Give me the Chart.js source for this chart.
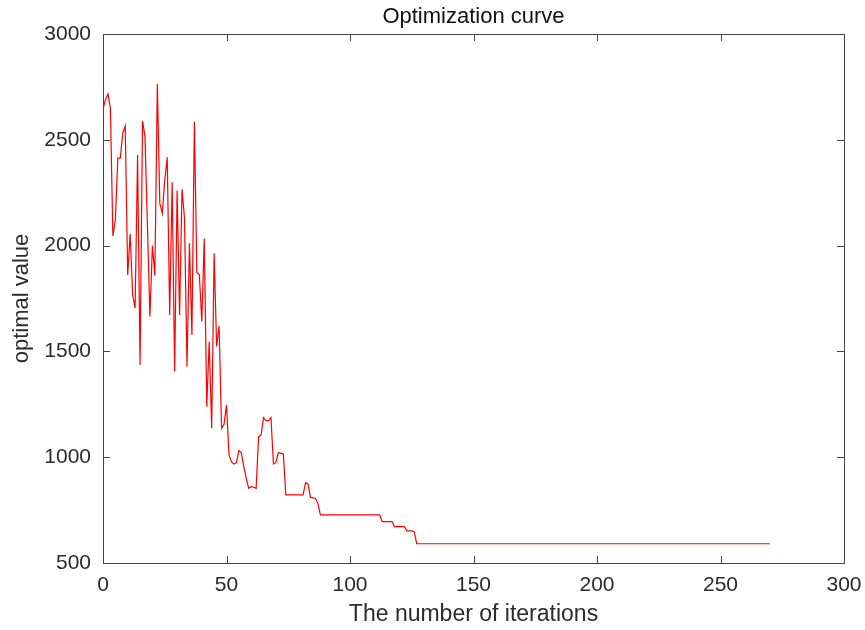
<!DOCTYPE html>
<html>
<head>
<meta charset="utf-8">
<script src="https://cdn.jsdelivr.net/npm/chart.js@4.4.1/dist/chart.umd.min.js"></script>
<style>
  body { margin: 0; background: #fff; }
  canvas { display: block; }
</style>
</head>
<body>
<canvas id="curve" width="865" height="630"></canvas>
<script>
// optimal value at each iteration (iteration = index)
const optimalValues = [
    2644, 2690, 2717, 2649, 2046, 2121, 2413, 2413, 2531, 2565,
    1861, 2055, 1767, 1704, 2428, 1436, 2589, 2515, 2090, 1665,
    2000, 1858, 2764, 2200, 2153, 2310, 2417, 1672, 2299, 1405,
    2260, 1672, 2266, 2129, 1428, 2011, 1578, 2586, 1873, 1863,
    1641, 2033, 1239, 1546, 1137, 1964, 1523, 1620, 1137, 1155,
    1247, 1011, 979, 968, 974, 1031, 1022, 955, 900, 853,
    861, 858, 853, 1097, 1105, 1187, 1173, 1173, 1187, 968,
    974, 1022, 1018, 1015, 822, 822, 822, 822, 822, 822,
    822, 822, 880, 874, 811, 808, 806, 782, 727, 727,
    727, 727, 727, 727, 727, 727, 727, 727, 727, 727,
    727, 727, 727, 727, 727, 727, 727, 727, 727, 727,
    727, 727, 727, 696, 696, 696, 696, 696, 672, 672,
    672, 672, 672, 652, 652, 652, 648, 591, 591, 591,
    591, 591, 591, 591, 591, 591, 591, 591, 591, 591,
    591, 591, 591, 591, 591, 591, 591, 591, 591, 591,
    591, 591, 591, 591, 591, 591, 591, 591, 591, 591,
    591, 591, 591, 591, 591, 591, 591, 591, 591, 591,
    591, 591, 591, 591, 591, 591, 591, 591, 591, 591,
    591, 591, 591, 591, 591, 591, 591, 591, 591, 591,
    591, 591, 591, 591, 591, 591, 591, 591, 591, 591,
    591, 591, 591, 591, 591, 591, 591, 591, 591, 591,
    591, 591, 591, 591, 591, 591, 591, 591, 591, 591,
    591, 591, 591, 591, 591, 591, 591, 591, 591, 591,
    591, 591, 591, 591, 591, 591, 591, 591, 591, 591,
    591, 591, 591, 591, 591, 591, 591, 591, 591, 591,
    591, 591, 591, 591, 591, 591, 591, 591, 591, 591,
    591, 591, 591, 591, 591, 591, 591, 591, 591, 591,
    591
];

const xTicks = [0, 50, 100, 150, 200, 250, 300];
const yTicks = [500, 1000, 1500, 2000, 2500, 3000];

const chartTitle = 'Optimization curve';
const xTitle = 'The number of iterations';
const yTitle = 'optimal value';

const FONT = 'Liberation Sans, Arial, Helvetica, sans-serif';
const AXIS_COLOR = '#444';
const TEXT_COLOR = '#2b2b2b';

// matlab style box with inward ticks on all four sides
const boxPlugin = {
    id: 'box',
    afterDraw(chart) {
        const { ctx, chartArea: a, scales } = chart;
        ctx.save();
        ctx.strokeStyle = AXIS_COLOR;
        ctx.lineWidth = 1;
        ctx.strokeRect(Math.round(a.left) + 0.5, Math.round(a.top) + 0.5,
            Math.round(a.right - a.left), Math.round(a.bottom - a.top));
        const len = 7;
        ctx.beginPath();
        xTicks.forEach(v => {
            const x = Math.round(scales.x.getPixelForValue(v)) + 0.5;
            ctx.moveTo(x, a.bottom); ctx.lineTo(x, a.bottom - len);
            ctx.moveTo(x, a.top); ctx.lineTo(x, a.top + len);
        });
        yTicks.forEach(v => {
            const y = Math.round(scales.y.getPixelForValue(v)) + 0.5;
            ctx.moveTo(a.left, y); ctx.lineTo(a.left + len, y);
            ctx.moveTo(a.right, y); ctx.lineTo(a.right - len, y);
        });
        ctx.stroke();
        ctx.restore();
    }
};

new Chart(document.getElementById('curve').getContext('2d'), {
    type: 'line',
    data: {
        datasets: [{
            data: optimalValues.map((v, i) => ({ x: i, y: v })),
            borderColor: '#ff0000',
            borderWidth: 1.2,
            pointRadius: 0,
            tension: 0,
            fill: false
        }]
    },
    options: {
        responsive: false,
        animation: false,
        layout: { padding: { left: 0, right: 21, top: 0, bottom: 0 } },
        plugins: {
            legend: { display: false },
            tooltip: { enabled: false },
            title: {
                display: true,
                fullSize: false,
                text: chartTitle,
                color: '#111',
                font: { family: FONT, size: 22, weight: 'normal', lineHeight: 1.2 },
                padding: { top: 4, bottom: 3.6 }
            }
        },
        scales: {
            x: {
                type: 'linear',
                min: 0,
                max: 300,
                grid: { display: false },
                border: { display: false },
                afterFit(scale) { scale.height = 67; },
                afterBuildTicks(scale) { scale.ticks = xTicks.map(v => ({ value: v })); },
                ticks: {
                    color: TEXT_COLOR,
                    padding: 2,
                    maxRotation: 0,
                    callback: v => String(v),
                    font: { family: FONT, size: 21 }
                },
                title: {
                    display: true,
                    text: xTitle,
                    color: TEXT_COLOR,
                    font: { family: FONT, size: 23 },
                    padding: { top: 0, bottom: 2 }
                }
            },
            y: {
                type: 'linear',
                min: 500,
                max: 3000,
                grid: { display: false },
                border: { display: false },
                afterFit(scale) { scale.width = 103; },
                afterBuildTicks(scale) { scale.ticks = yTicks.map(v => ({ value: v })); },
                ticks: {
                    color: TEXT_COLOR,
                    padding: 4,
                    callback: v => String(v),
                    font: { family: FONT, size: 21 }
                },
                title: {
                    display: true,
                    text: yTitle,
                    color: TEXT_COLOR,
                    font: { family: FONT, size: 22 },
                    padding: { top: 9, bottom: 0 }
                }
            }
        }
    },
    plugins: [boxPlugin]
});
</script>
</body>
</html>
